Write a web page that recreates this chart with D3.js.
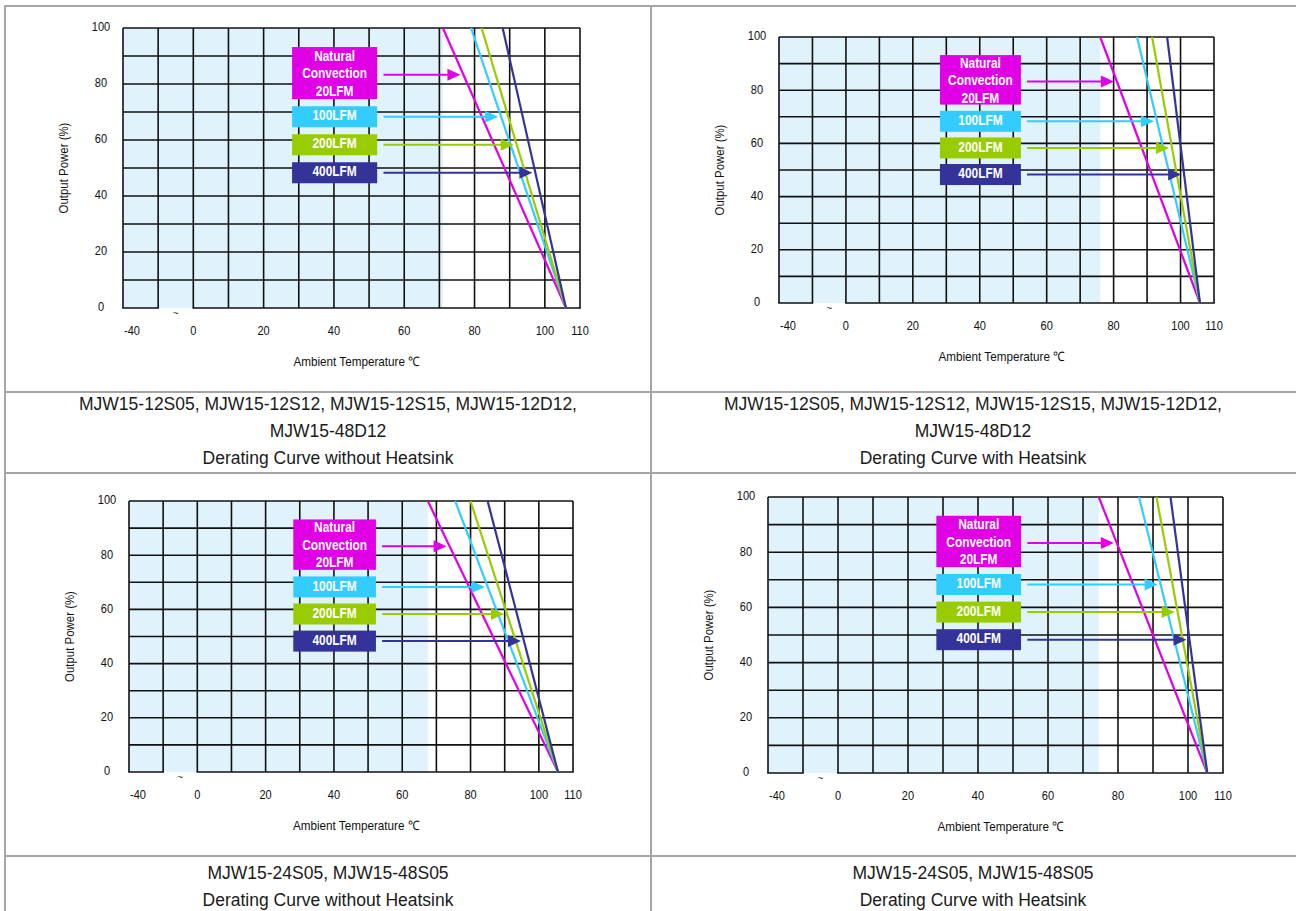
<!DOCTYPE html>
<html>
<head>
<meta charset="utf-8">
<title>MJW15 derating curves</title>
<style>
  body { margin: 0; background: #fff; }
  text { font-family: "Liberation Sans", Arial, sans-serif; }
</style>
</head>
<body>
<script src="https://cdn.jsdelivr.net/npm/d3@7"></script>
<script>
// grid and axes
var gridTemps = [-40, -30, 0, 10, 20, 30, 40, 50, 60, 70, 80, 90, 100, 110];
var tempTicks = [-40, 0, 20, 40, 60, 80, 100, 110];
var powerGrid = [0, 10, 20, 30, 40, 50, 60, 70, 80, 90, 100];
var powerTicks = [0, 20, 40, 60, 80, 100];

// airflow series
var legendLines = [["Natural", "Convection", "20LFM"], ["100LFM"], ["200LFM"], ["400LFM"]];
var colors = ["#e100e6", "#33ccff", "#99cc00", "#333399"];
var arrowPower = [83.3, 68.3, 58.3, 48.3];

// temperature (C) where each curve leaves 100 %
var start12NoHs = [71, 79, 82, 88];
var start12Hs = [76, 87, 91.5, 96];
var start24NoHs = [67.5, 75.5, 80, 85];
var start24Hs = [74.5, 86, 91, 95];
// temperature (C) where the curves reach 0 %
var endTemps = [106, 105.8, 105.6, 105.5];

var models12 = ["MJW15-12S05, MJW15-12S12, MJW15-12S15, MJW15-12D12,", "MJW15-48D12"];
var models24 = ["MJW15-24S05, MJW15-48S05"];

var W = 1296, H = 911;
var svg = d3.select("body").append("svg").attr("width", W).attr("height", H);

// chart images in the source are squeezed sideways, so their text is condensed
function label(parent, x, y, str, size, sx, opts) {
  opts = opts || {};
  var t = parent.append("text")
    .attr("transform", "translate(" + x + "," + y + ")" + (opts.rotate ? " rotate(" + opts.rotate + ")" : "") + " scale(" + sx + ",1)")
    .attr("text-anchor", opts.anchor || "middle").attr("dominant-baseline", "middle")
    .attr("font-size", size).attr("fill", opts.fill || "#111").text(str);
  if (opts.bold) t.attr("font-weight", "bold");
  return t;
}

// table frame
var frame = svg.append("g").attr("stroke", "#a6a6a6").attr("stroke-width", 2).attr("fill", "none");
frame.append("rect").attr("x", 5).attr("y", 6).attr("width", W + 10).attr("height", H + 10);
frame.append("line").attr("x1", 651).attr("x2", 651).attr("y1", 6).attr("y2", H);
[392, 473, 856].forEach(function(y){
  frame.append("line").attr("x1", 5).attr("x2", W).attr("y1", y).attr("y2", y);
});

var panels = [
  {L:123, R:580, T:28, B:308, start:start12NoHs, end:endTemps[0]},
  {L:779, R:1214, T:37, B:303, start:start12Hs, end:endTemps[1]},
  {L:129, R:573, T:501, B:772, start:start24NoHs, end:endTemps[2]},
  {L:768, R:1223, T:497, B:773, start:start24Hs, end:endTemps[3]}
];

var captions = [
  {cx:328, y:405, lines: models12.concat(["Derating Curve without Heatsink"])},
  {cx:973, y:405, lines: models12.concat(["Derating Curve with Heatsink"])},
  {cx:328, y:874, lines: models24.concat(["Derating Curve without Heatsink"])},
  {cx:973, y:874, lines: models24.concat(["Derating Curve with Heatsink"])}
];

captions.forEach(function(c){
  var g = svg.append("g");
  c.lines.forEach(function(d, i){
    label(g, c.cx, c.y + i * 27, d, 17.5, 1, {fill: "#1a1a1a"});
  });
});

panels.forEach(function(p){
  var c = (p.R - p.L) / 13;
  var x = d3.scaleLinear().domain([-40, -30, 0, 110]).range([p.L, p.L + c, p.L + 2 * c, p.R]);
  var y = d3.scaleLinear().domain([0, 100]).range([p.B, p.T]);
  var g = svg.append("g");

  // constant full-power region
  g.append("rect").attr("x", x(-40)).attr("y", y(100))
    .attr("width", x(p.start[0]) - x(-40)).attr("height", y(0) - y(100))
    .attr("fill", "#e0f2fc");

  // grid
  var grid = g.append("g").attr("stroke", "#111").attr("stroke-width", 1.6);
  grid.selectAll(".v").data(gridTemps).enter().append("line")
    .attr("x1", function(d){ return x(d); }).attr("x2", function(d){ return x(d); })
    .attr("y1", y(0)).attr("y2", y(100));
  grid.selectAll(".h").data(powerGrid.slice(1)).enter().append("line")
    .attr("x1", x(-40)).attr("x2", x(110))
    .attr("y1", function(d){ return y(d); }).attr("y2", function(d){ return y(d); });
  // bottom edge broken between -30 and 0
  [[-40, -30], [0, 110]].forEach(function(s){
    grid.append("line").attr("x1", x(s[0]) - 0.8).attr("x2", x(s[1]) + 0.8)
      .attr("y1", y(0)).attr("y2", y(0));
  });
  label(g, (x(-30) + x(0)) / 2, y(0) + 6, "~", 10, 1, {fill: "#333"});

  // axis labels
  powerTicks.forEach(function(d){
    label(g, p.L - 22, y(d), d, 13, 0.85);
  });
  tempTicks.forEach(function(d){
    label(g, d === -40 ? x(d) + 9 : x(d), p.B + 24, d, 13, 0.85);
  });
  label(g, (p.L + p.R) / 2 + 5, p.B + 55, "Ambient Temperature  \u2103", 13, 0.9);
  label(g, p.L - 58, (p.T + p.B) / 2, "Output Power  (%)", 13, 0.88, {rotate: -90});

  // derating curves
  var line = d3.line().x(function(d){ return x(d[0]); }).y(function(d){ return y(d[1]); });
  g.selectAll(".curve").data(p.start).enter().append("path")
    .attr("d", function(d){ return line([[d, 100], [p.end, 0]]); })
    .attr("fill", "none").attr("stroke-width", 2.2)
    .attr("stroke", function(d,i){ return colors[i]; });

  // legend boxes with arrows
  p.start.forEach(function(s, i){
    var py = arrowPower[i];
    var cy = y(py);
    var tipX = x(s + (p.end - s) * (1 - py / 100)) - 3;
    var x0 = x(54.1);
    g.append("line").attr("x1", x0).attr("x2", tipX - 10).attr("y1", cy).attr("y2", cy)
      .attr("stroke", colors[i]).attr("stroke-width", 2);
    g.append("path")
      .attr("d", "M" + tipX + "," + cy + "L" + (tipX - 13) + "," + (cy - 6) + "L" + (tipX - 13) + "," + (cy + 6) + "Z")
      .attr("fill", colors[i]);

    var top = i === 0 ? y(93.2) : cy - 10.5;
    var bot = i === 0 ? y(74.6) : cy + 10.5;
    g.append("rect").attr("x", x(28.1)).attr("y", top)
      .attr("width", x(52.3) - x(28.1)).attr("height", bot - top)
      .attr("fill", colors[i]);
    var n = legendLines[i].length;
    legendLines[i].forEach(function(d, j){
      label(g, (x(28.1) + x(52.3)) / 2, cy + (j - (n - 1) / 2) * 17.5, d, 14, 0.85, {bold: true, fill: "#fff"});
    });
  });
});
</script>
</body>
</html>
